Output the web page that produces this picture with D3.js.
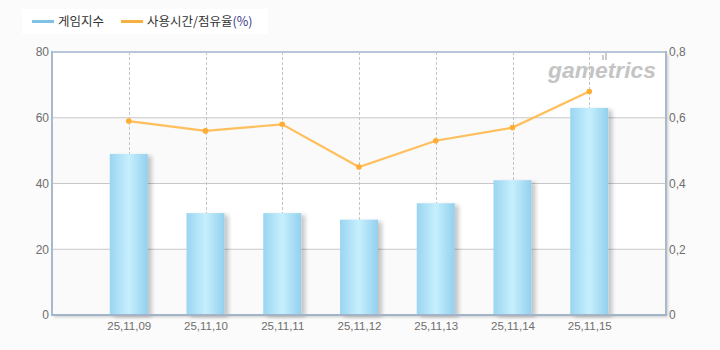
<!DOCTYPE html>
<html><head><meta charset="utf-8">
<script src="https://cdn.jsdelivr.net/npm/d3@7/dist/d3.min.js"></script>
<style>
html,body{margin:0;padding:0;background:#fbfbfb;}
svg{display:block;font-family:"Noto Sans CJK KR","DejaVu Sans",sans-serif;}
</style></head>
<body><svg id="c" width="720" height="350"></svg>
<script>
const categories = ["25,11,09","25,11,10","25,11,11","25,11,12","25,11,13","25,11,14","25,11,15"];
const gameIndex = [49, 31, 31, 29, 34, 41, 63];
const usageShare = [0.59, 0.56, 0.58, 0.45, 0.53, 0.57, 0.68];
const leftTicks = [0, 20, 40, 60, 80];
const rightTicks = [0, 0.2, 0.4, 0.6, 0.8];
const seriesNames = ["게임지수", "사용시간/점유율"];

const svg = d3.select("#c");
const L = 52, R = 666, T = 52, B = 315;
const x = d3.scaleLinear().domain([0, categories.length + 1]).range([L, R]);
const yL = d3.scaleLinear().domain([0, 80]).range([B, T]);
const yR = d3.scaleLinear().domain([0, 0.8]).range([B, T]);

const defs = svg.append("defs");
const g = defs.append("linearGradient").attr("id","barG").attr("x1","0").attr("x2","1").attr("y1","0").attr("y2","0");
g.append("stop").attr("offset","0%").attr("stop-color","#9ad5f1");
g.append("stop").attr("offset","50%").attr("stop-color","#c6effd");
g.append("stop").attr("offset","100%").attr("stop-color","#93d0ee");
const f = defs.append("filter").attr("id","sh").attr("x","-20%").attr("y","-20%").attr("width","160%").attr("height","140%");
f.append("feGaussianBlur").attr("in","SourceAlpha").attr("stdDeviation","2");
f.append("feOffset").attr("dx","4").attr("dy","2").attr("result","b");
f.append("feComponentTransfer").append("feFuncA").attr("type","linear").attr("slope","0.22");
const m = f.append("feMerge"); m.append("feMergeNode"); m.append("feMergeNode").attr("in","SourceGraphic");
const fa = defs.append("filter").attr("id","ash").attr("x","-5%").attr("y","-5%").attr("width","110%").attr("height","110%");
fa.append("feGaussianBlur").attr("in","SourceAlpha").attr("stdDeviation","1.5");
fa.append("feOffset").attr("dx","2").attr("dy","2").attr("result","b");
fa.append("feComponentTransfer").append("feFuncA").attr("type","linear").attr("slope","0.2");
const ma = fa.append("feMerge"); ma.append("feMergeNode"); ma.append("feMergeNode").attr("in","SourceGraphic");

// legend
const lg = svg.append("g");
lg.append("rect").attr("x",22).attr("y",9).attr("width",246).attr("height",25).attr("fill","#ffffff");
lg.append("line").attr("x1",32).attr("x2",54).attr("y1",21.5).attr("y2",21.5).attr("stroke","#7ec2e6").attr("stroke-width",3);
lg.append("text").attr("x",58).attr("y",26).attr("font-size",12.5).attr("fill","#333").text(seriesNames[0]);
lg.append("line").attr("x1",121).attr("x2",143).attr("y1",21.5).attr("y2",21.5).attr("stroke","#f5b041").attr("stroke-width",3);
const t2 = lg.append("text").attr("x",147).attr("y",26).attr("font-size",12.5).attr("fill","#333");
t2.append("tspan").text(seriesNames[1]);
t2.append("tspan").attr("fill","#3a3a8a").text("(%)");

// plot background with bands
svg.append("rect").attr("x",L).attr("y",T).attr("width",R-L).attr("height",B-T).attr("fill","#ffffff").attr("filter","url(#ash)");
for (let i = 0; i < leftTicks.length - 1; i++) {
  if (i % 2 === 0) {
    svg.append("rect").attr("x",L).attr("y",yL(leftTicks[i+1])).attr("width",R-L)
      .attr("height",yL(leftTicks[i]) - yL(leftTicks[i+1])).attr("fill","#fafafa");
  }
}
// gridlines
svg.append("g").selectAll("line").data(leftTicks.slice(1,-1)).join("line")
  .attr("x1",L).attr("x2",R).attr("y1",d=>yL(d)).attr("y2",d=>yL(d))
  .attr("stroke","#c8c8c8").attr("stroke-width",1);
// vertical dashed lines
svg.append("g").selectAll("line").data(categories).join("line")
  .attr("x1",(d,i)=>Math.round(x(i+1))+0.5).attr("x2",(d,i)=>Math.round(x(i+1))+0.5)
  .attr("y1",T).attr("y2",B)
  .attr("stroke","#c4c4c4").attr("stroke-dasharray","3,2");

// watermark
svg.append("text").attr("x",548).attr("y",78).attr("font-size",22).attr("font-weight","bold")
  .attr("font-style","italic").attr("fill","#c4c4c4").attr("textLength",108).attr("lengthAdjust","spacingAndGlyphs")
  .attr("font-family","Liberation Sans, Arial, sans-serif").text("gametrics");
svg.append("rect").attr("x",602).attr("y",55).attr("width",2).attr("height",5).attr("fill","#cccccc");
svg.append("rect").attr("x",605).attr("y",53).attr("width",2).attr("height",7).attr("fill","#cccccc");

// bars
const bw = 38;
svg.append("g").selectAll("rect").data(gameIndex).join("rect")
  .attr("x",(d,i)=>x(i+1)-bw/2).attr("width",bw)
  .attr("y",d=>yL(d)).attr("height",d=>B-yL(d))
  .attr("fill","url(#barG)").attr("filter","url(#sh)");

// axes frame
svg.append("line").attr("x1",L).attr("x2",R).attr("y1",T).attr("y2",T).attr("stroke","#b7c6d8").attr("stroke-width",2);
svg.append("line").attr("x1",L).attr("x2",L).attr("y1",T-1).attr("y2",B+1).attr("stroke","#a9b9cd").attr("stroke-width",2);
svg.append("line").attr("x1",R).attr("x2",R).attr("y1",T-1).attr("y2",B+1).attr("stroke","#a9b9cd").attr("stroke-width",2);
svg.append("line").attr("x1",L).attr("x2",R+1).attr("y1",B).attr("y2",B).attr("stroke","#a3b3c8").attr("stroke-width",2);

// line series
const line = d3.line().x((d,i)=>x(i+1)).y(d=>yR(d));
svg.append("path").datum(usageShare).attr("d",line).attr("fill","none")
  .attr("stroke","#ffb84a").attr("stroke-width",2.2).attr("stroke-opacity",0.9);
svg.append("g").selectAll("circle").data(usageShare).join("circle")
  .attr("cx",(d,i)=>x(i+1)).attr("cy",d=>yR(d)).attr("r",2.8).attr("fill","#ffad33");

// axes via d3
const tickFont = "Liberation Sans, Arial, sans-serif";
const axL = d3.axisLeft(yL).tickValues(leftTicks).tickSize(0).tickPadding(3);
const gL = svg.append("g").attr("transform",`translate(${L},0)`).call(axL);
gL.select(".domain").remove();
gL.selectAll("text").attr("fill","#6e6e6e").attr("font-size",12).attr("font-family",tickFont);

const axR = d3.axisRight(yR).tickValues(rightTicks).tickSize(0).tickPadding(3)
  .tickFormat(d=> d===0 ? "0" : d3.format(".1f")(d).replace(".", ","));
const gR = svg.append("g").attr("transform",`translate(${R},0)`).call(axR);
gR.select(".domain").remove();
gR.selectAll("text").attr("fill","#6e6e6e").attr("font-size",12).attr("font-family",tickFont);

const axB = d3.axisBottom(d3.scalePoint().domain(categories).range([x(1), x(categories.length)])).tickSize(0).tickPadding(7);
const gB = svg.append("g").attr("transform",`translate(0,${B})`).call(axB);
gB.select(".domain").remove();
gB.selectAll("text").attr("fill","#6e6e6e").attr("font-size",11.5).attr("font-family",tickFont);
</script></body></html>
